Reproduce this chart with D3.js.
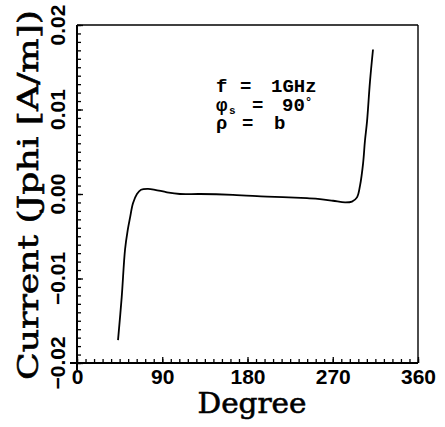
<!DOCTYPE html>
<html><head><meta charset="utf-8">
<script src="https://cdn.jsdelivr.net/npm/d3@7"></script>
<style>
html,body{margin:0;padding:0;background:#fff;}
svg{display:block;}
</style></head>
<body>
<svg id="chart" width="445" height="427"></svg>
<script>
// ---- data ----
const degrees = [43.3, 47.2, 50.7, 53.5, 56.0, 59.1, 63.3, 67.6, 75.0, 82.3, 95.0, 108.7, 129.9, 164.7, 200.6, 242.8, 256.5, 270.3, 283.0, 290.3, 295.6, 298.8, 302.0, 304.0, 306.2, 309.3, 312.5];
const current = [-0.0173, -0.0122, -0.0066, -0.0043, -0.0028, -0.0011, 0.0000, 0.0005, 0.0006, 0.0005, 0.0002, 0.0000, 0.0000, -0.0001, -0.0003, -0.0005, -0.0006, -0.0008, -0.0010, -0.0009, -0.0004, 0.0010, 0.0036, 0.0063, 0.0086, 0.0133, 0.0171];
const xTickValues = [0, 90, 180, 270, 360];
const yTickValues = [-0.02, -0.01, 0.00, 0.01, 0.02];
const xLabel = "Degree";
const yLabel = "Current (Jphi [A/m])";

const svg = d3.select("#chart");
const x = d3.scaleLinear().domain([0, 360]).range([77, 418]);
const y = d3.scaleLinear().domain([-0.02, 0.02]).range([363, 25]);

const tickFont = "'Liberation Sans', Arial, sans-serif";
const serif = "'DejaVu Serif', 'Liberation Serif', serif";
const mono = "'Liberation Mono', 'Courier New', monospace";

// frame (top/right thin)
svg.append("line").attr("x1", x(0)).attr("x2", x(360)).attr("y1", y(0.02)).attr("y2", y(0.02))
  .attr("stroke", "#000").attr("stroke-width", 1.6);
svg.append("line").attr("x1", x(360)).attr("x2", x(360)).attr("y1", y(0.02)).attr("y2", y(-0.02))
  .attr("stroke", "#000").attr("stroke-width", 1.4);

// x axis: minor ticks
const xMinor = d3.range(0, 361, 9);
svg.append("g").attr("transform", `translate(0,${y(-0.02)})`)
  .call(d3.axisBottom(x).tickValues(xMinor).tickSize(-4).tickSizeOuter(0).tickFormat(""));
const gx = svg.append("g").attr("transform", `translate(0,${y(-0.02)})`)
  .call(d3.axisBottom(x).tickValues(xTickValues).tickSize(-6).tickSizeOuter(0).tickPadding(6).tickFormat(d3.format("d")));
gx.selectAll("text").attr("font-family", tickFont).attr("font-weight", "bold").attr("font-size", 21).attr("fill", "#000");

// y axis: minor ticks
const yMinor = d3.range(-20, 21, 1).map(v => v / 1000);
svg.append("g").attr("transform", `translate(${x(0)},0)`)
  .call(d3.axisLeft(y).tickValues(yMinor).tickSize(-4).tickSizeOuter(0).tickFormat(""));
svg.append("g").attr("transform", `translate(${x(0)},0)`)
  .call(d3.axisLeft(y).tickValues(yTickValues).tickSize(-6).tickSizeOuter(0).tickFormat(""));

svg.selectAll(".domain").remove();
svg.selectAll(".tick line").attr("stroke", "#000").attr("stroke-width", 1.3);

// axis lines (slightly extended at the corner)
svg.append("line").attr("x1", x(0) - 7).attr("x2", x(360)).attr("y1", y(-0.02)).attr("y2", y(-0.02))
  .attr("stroke", "#000").attr("stroke-width", 2);
svg.append("line").attr("x1", x(0)).attr("x2", x(0)).attr("y1", y(0.02)).attr("y2", y(-0.02) + 7)
  .attr("stroke", "#000").attr("stroke-width", 2);

// y tick labels, rotated
const fmtY = d3.format(".2f");
svg.append("g").selectAll("text").data(yTickValues).join("text")
  .attr("transform", d => `translate(65,${y(d)}) rotate(-90)`)
  .attr("text-anchor", "middle")
  .attr("font-family", tickFont).attr("font-weight", "bold").attr("font-size", 21)
  .text(d => fmtY(d));

// axis titles
svg.append("text").attr("x", 252).attr("y", 413).attr("text-anchor", "middle")
  .attr("font-family", serif).attr("font-size", 28)
  .attr("stroke", "#000").attr("stroke-width", 0.6)
  .attr("textLength", 109).attr("lengthAdjust", "spacingAndGlyphs")
  .text(xLabel);
svg.append("text").attr("transform", "translate(38,195) rotate(-90)").attr("text-anchor", "middle")
  .attr("font-family", serif).attr("font-size", 28)
  .attr("stroke", "#000").attr("stroke-width", 0.6)
  .attr("textLength", 370).attr("lengthAdjust", "spacingAndGlyphs")
  .text(yLabel);

// curve
const pts = degrees.map((d, i) => [d, current[i]]);
svg.append("path").datum(pts)
  .attr("fill", "none").attr("stroke", "#000").attr("stroke-width", 1.8)
  .attr("d", d3.line().x(d => x(d[0])).y(d => y(d[1])).curve(d3.curveCatmullRom.alpha(0.5)));

// annotation
const ann = svg.append("g").attr("font-family", mono).attr("font-weight", "bold").attr("font-size", 19).attr("fill", "#000");
const t1 = ann.append("text").attr("y", 92);
t1.append("tspan").attr("x", 216).text("f");
t1.append("tspan").attr("x", 240).text("=");
t1.append("tspan").attr("x", 271).text("1GHz");
const t2 = ann.append("text").attr("y", 111);
t2.append("tspan").attr("x", 216).text("φ");
t2.append("tspan").attr("x", 229).attr("dy", 3).attr("font-size", 11).text("s");
t2.append("tspan").attr("x", 252).attr("dy", -3).text("=");
t2.append("tspan").attr("x", 282).text("90");
t2.append("tspan").attr("x", 305).attr("dy", -5).attr("font-size", 12).text("°");
const t3 = ann.append("text").attr("y", 129);
t3.append("tspan").attr("x", 216).text("ρ");
t3.append("tspan").attr("x", 242).text("=");
t3.append("tspan").attr("x", 274).text("b");
</script>
</body></html>
